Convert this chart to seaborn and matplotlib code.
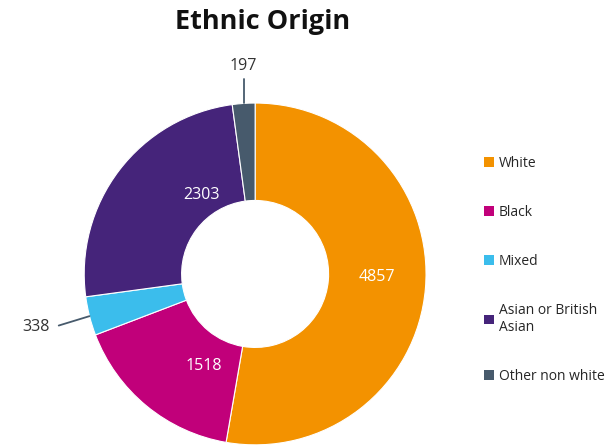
import numpy as np
import matplotlib
matplotlib.use("Agg")
import matplotlib.pyplot as plt
import seaborn as sns
from matplotlib.patches import Patch

sns.set_theme(style="white")
plt.rcParams['font.family'] = ['Open Sans', 'DejaVu Sans']

categories = ["White", "Black", "Mixed", "Asian or British\nAsian", "Other non white"]
values = [4857, 1518, 338, 2303, 197]
colors = ["#F39200", "#C1007A", "#3BBDEC", "#45247A", "#475A6C"]

fig = plt.figure(figsize=(6.14, 4.48), dpi=100)
ax = fig.add_axes([0.137, 0.007, 0.557, 0.763])
wedges, _ = ax.pie(values, colors=colors, startangle=90, counterclock=False,
                   wedgeprops=dict(width=0.57, edgecolor="white", linewidth=0.8))
ax.set_xlim(-1, 1)
ax.set_ylim(-1, 1)
ax.set_aspect("equal")

# (radius, angle shift in degrees) for inside labels
inside = {0: (0.71, 3.5), 1: (0.615, 10.5), 3: (0.56, -18.5)}
for i, w in enumerate(wedges):
    mid_deg = (w.theta1 + w.theta2) / 2
    if i in inside:
        r, shift = inside[i]
        a = np.deg2rad(mid_deg + shift)
        ax.text(r * np.cos(a), r * np.sin(a), str(values[i]), color="white",
                ha="center", va="center", fontsize=11.5)
    else:
        a = np.deg2rad(mid_deg)
        x0, y0 = np.cos(a), np.sin(a)
        if i == 4:
            ax.plot([x0, x0], [y0, y0 + 0.14], color="#475A6C", lw=1.3, clip_on=False)
            ax.text(x0, y0 + 0.17, str(values[i]), ha="center", va="bottom",
                    fontsize=11.5, color="#333333")
        else:
            ax.plot([x0, x0 - 0.18], [y0, y0 - 0.055], color="#475A6C", lw=1.3, clip_on=False)
            ax.text(x0 - 0.23, y0 - 0.065, str(values[i]), ha="right", va="center",
                    fontsize=11.5, color="#333333")

fig.text(0.427, 0.95, "Ethnic Origin", ha="center", va="center", fontsize=19.5,
         fontweight="bold", color="#111111")

handles = [Patch(facecolor=c, edgecolor="none") for c in colors]
fig.legend(handles, categories, loc="center left", bbox_to_anchor=(0.768, 0.398),
           frameon=False, fontsize=10, handlelength=0.7, handleheight=0.7,
           handletextpad=0.35, labelspacing=2.45)

fig.savefig("out.png", dpi=100)
